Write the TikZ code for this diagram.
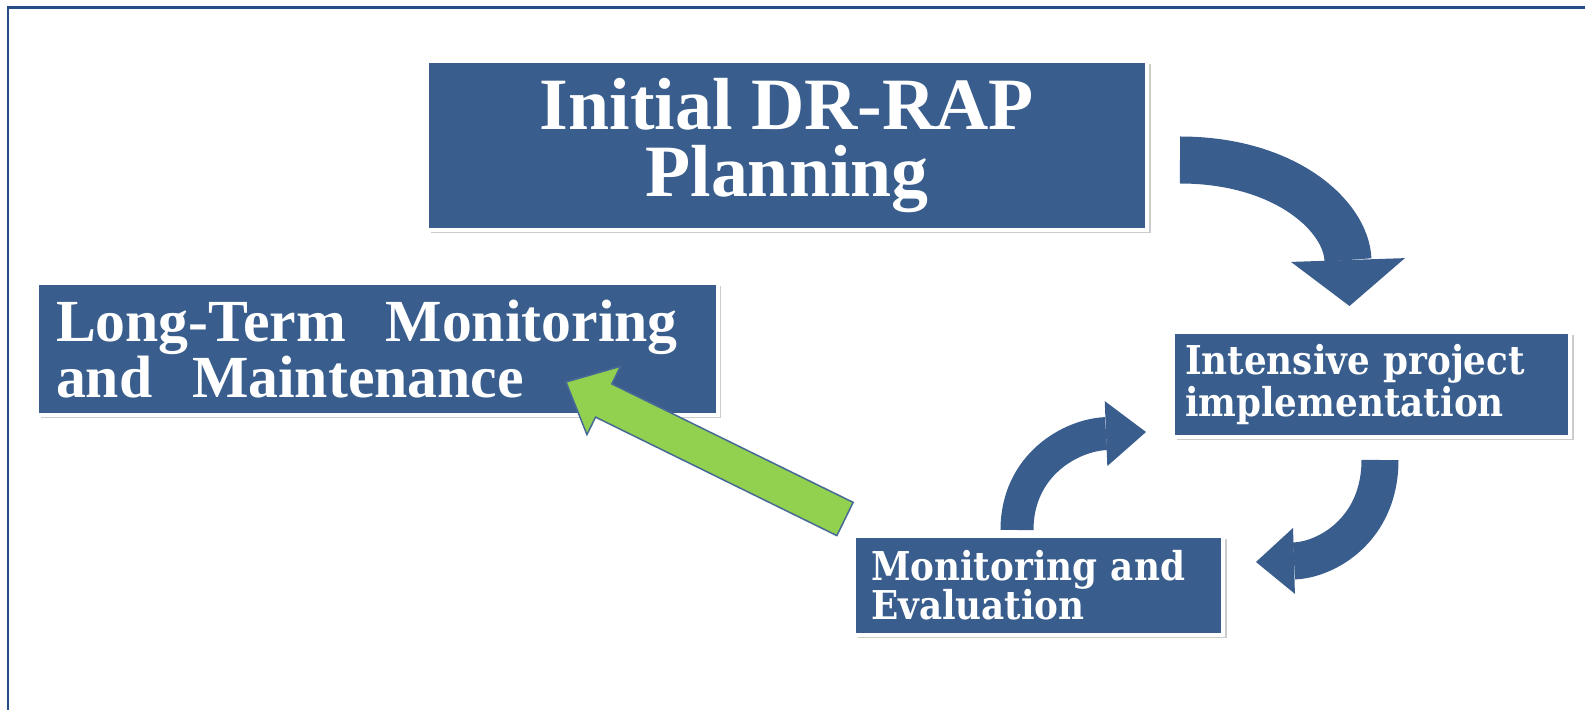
\documentclass[tikz,border=0pt]{standalone}
\usepackage{fontspec}
\setmainfont{Liberation Serif}
\newfontfamily\cyclefont[FakeStretch=0.9]{DejaVu Serif}
\usetikzlibrary{positioning,calc,shadows,arrows.meta}
\definecolor{boxblue}{RGB}{57,94,141}
\definecolor{frameblue}{RGB}{38,78,132}
\definecolor{arrgreen}{RGB}{146,208,80}

\begin{document}
\begin{tikzpicture}[x=0.1mm, y=-0.1mm,
  box/.style = {draw=white, line width=0.45mm, fill=boxblue, text=white, outer sep=0pt, inner ysep=0pt,
    drop shadow={shadow xshift=0.35mm, shadow yshift=-0.35mm, opacity=0.4}},
  loop/.style = {draw=boxblue, line cap=butt},
  greenarrow/.style = {fill=arrgreen, draw=frameblue!85, line width=0.15mm, line join=miter},
  frame/.style = {draw=frameblue, line width=0.3mm}]
\fill[white] (0,0) rectangle (1585,710);
\useasboundingbox (0,0) rectangle (1585,710);
\draw[frame] (8,710) -- (8,8) -- (1585,8);

\node[box, minimum width=72mm, minimum height=16.9mm, align=center,
  font=\bfseries\fontsize{21}{19}\selectfont] (plan) at (787,145.5) {Initial DR-RAP\\Planning};
\node[box, minimum height=13.2mm, inner xsep=1.9mm, text width=64.3mm, align=left,
  font=\bfseries\fontsize{17}{15.9}\selectfont] (ltm) at (377.5,349) {Long-Term~~Monitoring\\and~~Maintenance};
\node[box, minimum height=10.5mm, inner xsep=1.2mm, text width=37.3mm, align=left,
  font=\cyclefont\bfseries\fontsize{11.3}{11.7}\selectfont] (int) at (1371.5,384.5) {Intensive project\\implementation};
\node[box, minimum height=9.9mm, inner xsep=1.7mm, text width=33.5mm, align=left,
  font=\cyclefont\bfseries\fontsize{11.3}{11.2}\selectfont] (mon) at (1038.5,585.5) {Monitoring and\\Evaluation};

\draw[loop, line width=4.7mm, -{Triangle[width=11.4mm, length=4.6mm, line width=0pt]}]
  ($(plan.east)+(33,14.5)$) .. controls +(105,0) and +(-3,-90) .. ($(int.north)+(-22,-26)$);
\draw[loop, line width=3.3mm, -{Triangle[width=6.5mm, length=4mm, line width=0pt]}]
  ($(mon.north)+(-21.5,-6)$) .. controls +(0,-65) and +(-75,3) .. ($(int.south west)+(-27,-5)$);
\draw[loop, line width=3.7mm, -{Triangle[width=6.6mm, length=3.8mm, line width=0pt]}]
  ($(int.south)+(8.5,23)$) .. controls +(0,70) and +(70,-2) .. ($(mon.east)+(33,-23.5)$);

\coordinate (gtail) at ($(mon.north west)+(-9,-17)$);
\coordinate (gtip) at ($(ltm.south east)+(-152,-33)$);
\coordinate (gbase) at ($(gtip)!4.2mm!(gtail)$);
\draw[greenarrow] ($(gtail)!1.85mm!90:(gtip)$) -- ($(gbase)!1.85mm!90:(gtip)$) -- ($(gbase)!3.8mm!90:(gtip)$)
  -- (gtip) -- ($(gbase)!3.8mm!-90:(gtip)$) -- ($(gbase)!1.85mm!-90:(gtip)$) -- ($(gtail)!1.85mm!-90:(gtip)$) -- cycle;
\end{tikzpicture}
\end{document}
